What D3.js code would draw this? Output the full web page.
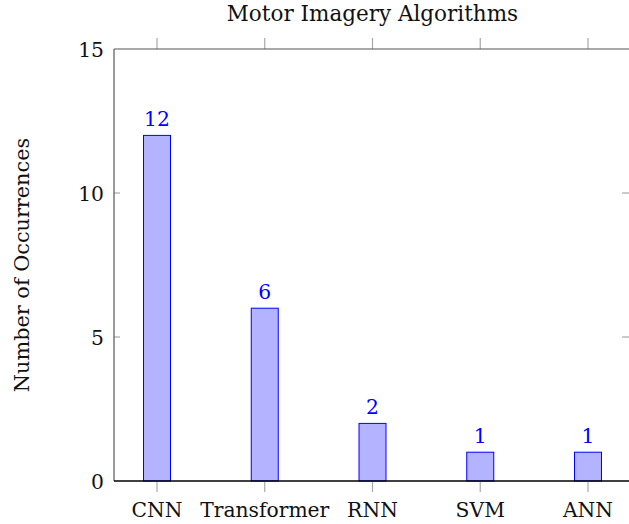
<!DOCTYPE html>
<html><head><meta charset="utf-8">
<script src="https://cdn.jsdelivr.net/npm/d3@7"></script>
<style>body{margin:0;background:#fff}svg{display:block}text{font-family:"DejaVu Serif",serif}</style>
</head><body><svg id="c" width="629" height="524"></svg>
<script>
const categories = ["CNN","Transformer","RNN","SVM","ANN"];
const values = [12,6,2,1,1];
const yTicks = [0,5,10,15];
const title = "Motor Imagery Algorithms";
const yLabel = "Number of Occurrences";

const svg = d3.select("#c");
const L=114, R=631, T=49, B=481;
const x = d3.scalePoint().domain(categories).range([157,588]);
const y = d3.scaleLinear().domain([0,15]).range([B,T]);
const fs = 20.3;
const gray="#a8a8a8";

// bars
const bw=27;
svg.selectAll("rect.bar").data(values).join("rect")
  .attr("x",(d,i)=>x(categories[i])-bw/2).attr("width",bw)
  .attr("y",d=>y(d)).attr("height",d=>B-y(d))
  .attr("fill","#b3b3ff").attr("stroke","#0000ff").attr("stroke-width",1);

// value labels
svg.selectAll("text.val").data(values).join("text")
  .attr("x",(d,i)=>x(categories[i])).attr("y",d=>y(d)-9)
  .attr("text-anchor","middle").attr("fill","#0000ff").attr("font-size",fs)
  .text(d=>d);

// ticks x (outward top & bottom)
categories.forEach(c=>{
  svg.append("line").attr("x1",x(c)).attr("x2",x(c)).attr("y1",B).attr("y2",B+11).attr("stroke",gray).attr("stroke-width",1.2);
  svg.append("line").attr("x1",x(c)).attr("x2",x(c)).attr("y1",T).attr("y2",T-11).attr("stroke",gray).attr("stroke-width",1.2);
  svg.append("text").attr("x",x(c)).attr("y",517).attr("text-anchor","middle").attr("font-size",fs).attr("fill","#111").text(c);
});
// y ticks inward both sides
yTicks.forEach(t=>{
  if(t>0 && t<15){
    svg.append("line").attr("x1",L).attr("x2",L+6).attr("y1",y(t)).attr("y2",y(t)).attr("stroke",gray).attr("stroke-width",1.2);
    svg.append("line").attr("x1",R-9).attr("x2",R).attr("y1",y(t)).attr("y2",y(t)).attr("stroke",gray).attr("stroke-width",1.2);
  }
  svg.append("text").attr("x",104).attr("y",y(t)+7.5).attr("text-anchor","end").attr("font-size",fs).attr("fill","#111").text(t);
});
// axis box
svg.append("line").attr("x1",L).attr("x2",L).attr("y1",T).attr("y2",B).attr("stroke","#555").attr("stroke-width",1.2);
svg.append("line").attr("x1",L).attr("x2",R).attr("y1",T).attr("y2",T).attr("stroke","#555").attr("stroke-width",1.2);
svg.append("line").attr("x1",R).attr("x2",R).attr("y1",T).attr("y2",B).attr("stroke","#555").attr("stroke-width",1.2);
svg.append("line").attr("x1",L).attr("x2",R).attr("y1",B).attr("y2",B).attr("stroke","#000").attr("stroke-width",1.3);

svg.append("text").attr("x",(L+R)/2).attr("y",21).attr("text-anchor","middle").attr("font-size",21.5).attr("fill","#111").text(title);
svg.append("text").attr("transform",`translate(29,${(T+B)/2}) rotate(-90)`).attr("text-anchor","middle").attr("font-size",20.8).attr("fill","#111").text(yLabel);
</script></body></html>
